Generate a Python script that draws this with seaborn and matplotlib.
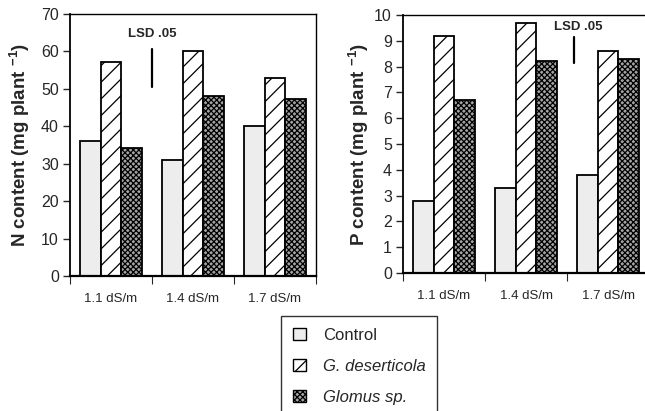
import pandas as pd
import seaborn as sns
import matplotlib.pyplot as plt
from matplotlib.patches import Patch

# values
salinity = ["1.1 dS/m", "1.4 dS/m", "1.7 dS/m"]
treatments = ["Control", "G. deserticola", "Glomus sp."]
n_control = [36.0, 31.0, 40.2]
n_deserticola = [57.3, 60.2, 53.0]
n_glomus = [34.2, 48.0, 47.3]
p_control = [2.8, 3.3, 3.8]
p_deserticola = [9.2, 9.7, 8.6]
p_glomus = [6.7, 8.2, 8.3]

# LSD .05 bars: (x position, low, high)
n_lsd = (0.5, 50.5, 60.6)
p_lsd = (1.59, 8.14, 9.15)

sns.set_style("ticks")
plt.rcParams["font.family"] = ["Liberation Sans", "DejaVu Sans"]
plt.rcParams["mathtext.fontset"] = "custom"
plt.rcParams["mathtext.bf"] = "Liberation Sans:bold"
plt.rcParams["mathtext.rm"] = "Liberation Sans:bold"
plt.rcParams["mathtext.default"] = "bf"
plt.rcParams["hatch.linewidth"] = 0.9

styles = {
    "Control": dict(facecolor="#ededed", hatch=""),
    "G. deserticola": dict(facecolor="white", hatch="//"),
    "Glomus sp.": dict(facecolor="#a4a4a4", hatch="xxxxxx"),
}


def make_df(c, d, g):
    rows = []
    for i, s in enumerate(salinity):
        rows.append([s, "Control", c[i]])
        rows.append([s, "G. deserticola", d[i]])
        rows.append([s, "Glomus sp.", g[i]])
    return pd.DataFrame(rows, columns=["salinity", "treatment", "value"])


def draw_panel(ax, df, ymax, step, ylabel, lsd, label_dx, label_dy, ycoord):
    sns.barplot(data=df, x="salinity", y="value", hue="treatment",
                hue_order=treatments, order=salinity, width=0.76, gap=0,
                errorbar=None, legend=False, ax=ax,
                edgecolor="black", linewidth=1.3)
    for cont, t in zip(ax.containers, treatments):
        for bar in cont:
            bar.set_facecolor(styles[t]["facecolor"])
            bar.set_hatch(styles[t]["hatch"])
            bar.set_edgecolor("black")
    ax.set_xlim(-0.5, 2.5)
    ax.set_ylim(0, ymax)
    ax.set_yticks(range(0, ymax + 1, step))
    ax.tick_params(axis="y", labelsize=11.5, length=5, width=1, pad=3)
    ax.set_xticks([-0.5, 0.5, 1.5, 2.5])
    ax.set_xticklabels([])
    ax.set_xticks([0, 1, 2], minor=True)
    ax.set_xticklabels(salinity, minor=True)
    ax.tick_params(axis="x", which="major", length=6, width=0.8, direction="out")
    ax.tick_params(axis="x", which="minor", length=0, labelsize=9.5, pad=12)
    ax.set_xlabel("")
    ax.set_ylabel(ylabel, fontsize=13.5, fontweight="bold")
    ax.yaxis.set_label_coords(ycoord, 0.5)
    for side in ["top", "right", "left", "bottom"]:
        ax.spines[side].set_visible(True)
        ax.spines[side].set_color("black")
    ax.spines["left"].set_linewidth(1.3)
    ax.spines["bottom"].set_linewidth(1.6)
    ax.spines["top"].set_linewidth(1.0)
    ax.spines["right"].set_linewidth(1.0)
    x, lo, hi = lsd
    ax.plot([x, x], [lo, hi], color="black", linewidth=1.6)
    ax.text(x + label_dx, hi + label_dy, "LSD .05", ha="center",
            va="bottom", fontsize=9.5, fontweight="bold")


fig = plt.figure(figsize=(6.45, 4.11), dpi=100)
ax1 = fig.add_axes([70 / 645, 1 - 276 / 411, 246 / 645, 262 / 411])
ax2 = fig.add_axes([403 / 645, 1 - 273 / 411, 246 / 645, 258 / 411])

draw_panel(ax1, make_df(n_control, n_deserticola, n_glomus), 70, 10,
           r"N content (mg plant $^{-1}$)", n_lsd, 0.0, 2.4, -0.155)
draw_panel(ax2, make_df(p_control, p_deserticola, p_glomus), 10, 1,
           r"P content (mg plant $^{-1}$)", p_lsd, 0.05, 0.15, -0.13)

handles = [Patch(facecolor=styles[t]["facecolor"], hatch=styles[t]["hatch"],
                 edgecolor="black", linewidth=1.0, label=t) for t in treatments]
leg = fig.legend(handles=handles, loc="upper left",
                 bbox_to_anchor=(281 / 645, 1 - 316 / 411), fontsize=12,
                 frameon=True, fancybox=False, edgecolor="black",
                 handlelength=0.8, handleheight=0.8, handletextpad=1.0,
                 labelspacing=0.95, borderpad=0.7, borderaxespad=0)
leg.get_frame().set_linewidth(1.0)
for t in leg.get_texts()[1:]:
    t.set_style("italic")

fig.savefig("out.png", dpi=100)
